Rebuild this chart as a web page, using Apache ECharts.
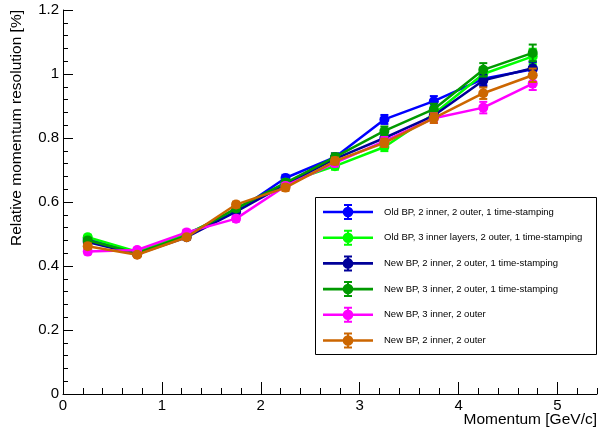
<!DOCTYPE html>
<html>
<head>
<meta charset="utf-8">
<script src="https://cdn.jsdelivr.net/npm/echarts@6/dist/echarts.min.js"></script>
<style>
  html, body { margin: 0; padding: 0; background: #fff; }
  #chart { width: 606px; height: 433px; }
</style>
</head>
<body>
<div id="chart"></div>
<script>
// Momentum bin centres [GeV/c]
const momentum = [0.25, 0.75, 1.25, 1.75, 2.25, 2.75, 3.25, 3.75, 4.25, 4.75];

// Relative momentum resolution [%] per layout
const oldBP2inner     = [0.485, 0.440, 0.500, 0.570, 0.675, 0.740, 0.858, 0.915, 0.985, 1.015];
const oldBP3inner     = [0.490, 0.445, 0.500, 0.575, 0.660, 0.712, 0.772, 0.875, 1.000, 1.055];
const newBP2innerTS   = [0.475, 0.437, 0.490, 0.570, 0.655, 0.735, 0.800, 0.870, 0.980, 1.018];
const newBP3innerTS   = [0.480, 0.440, 0.495, 0.580, 0.660, 0.740, 0.822, 0.890, 1.013, 1.066];
const newBP3inner     = [0.445, 0.450, 0.505, 0.548, 0.650, 0.722, 0.790, 0.862, 0.895, 0.970];
const newBP2inner     = [0.462, 0.435, 0.490, 0.592, 0.645, 0.728, 0.785, 0.862, 0.940, 0.996];

// Statistical uncertainties
const oldBP2innerErr   = [0.008, 0.007, 0.008, 0.009, 0.010, 0.012, 0.014, 0.016, 0.019, 0.022];
const oldBP3innerErr   = [0.008, 0.007, 0.008, 0.009, 0.010, 0.011, 0.013, 0.016, 0.020, 0.024];
const newBP2innerTSErr = [0.008, 0.007, 0.008, 0.009, 0.010, 0.011, 0.013, 0.015, 0.018, 0.021];
const newBP3innerTSErr = [0.008, 0.007, 0.008, 0.009, 0.010, 0.012, 0.014, 0.017, 0.021, 0.026];
const newBP3innerErr   = [0.008, 0.007, 0.008, 0.009, 0.010, 0.011, 0.013, 0.015, 0.018, 0.020];
const newBP2innerErr   = [0.008, 0.007, 0.008, 0.009, 0.010, 0.011, 0.013, 0.015, 0.018, 0.021];

// Axis tick values
const xMajorTicks = [0, 1, 2, 3, 4, 5];

const layouts = [
  { name: 'Old BP, 2 inner, 2 outer, 1 time-stamping',         color: '#0000ff', vals: oldBP2inner,   errs: oldBP2innerErr },
  { name: 'Old BP, 3 inner layers, 2 outer, 1 time-stamping',  color: '#00ff00', vals: oldBP3inner,   errs: oldBP3innerErr },
  { name: 'New BP, 2 inner, 2 outer, 1 time-stamping',         color: '#000099', vals: newBP2innerTS, errs: newBP2innerTSErr },
  { name: 'New BP, 3 inner, 2 outer, 1 time-stamping',         color: '#009900', vals: newBP3innerTS, errs: newBP3innerTSErr },
  { name: 'New BP, 3 inner, 2 outer',                          color: '#ff00ff', vals: newBP3inner,   errs: newBP3innerErr },
  { name: 'New BP, 2 inner, 2 outer',                          color: '#cc6600', vals: newBP2inner,   errs: newBP2innerErr }
];

const FONT = '"Liberation Sans", Arial, Helvetica, sans-serif';

// Legend glyph: horizontal line, error bar with caps, filled circle
const legendIcon = 'path://M0,6.7h50v2.6h-50z M24,0h2v16h-2z M21,0h8v2h-8z M21,14h8v2h-8z ' +
  'M30.3,8A5.3,5.3 0 1 1 19.7,8A5.3,5.3 0 1 1 30.3,8z';

const series = [];
layouts.forEach((l, i) => {
  series.push({
    type: 'line',
    name: l.name,
    xAxisIndex: 0,
    yAxisIndex: 0,
    z: 10 + 2 * i + 1,
    data: momentum.map((x, k) => [x, l.vals[k]]),
    symbol: 'circle',
    symbolSize: 10,
    showAllSymbol: true,
    lineStyle: { color: l.color, width: 2.5 },
    itemStyle: { color: l.color },
    emphasis: { disabled: true }
  });
});
layouts.forEach((l, i) => {
  series.push({
    type: 'custom',
    name: l.name,
    xAxisIndex: 0,
    yAxisIndex: 0,
    z: 10 + 2 * i,
    data: momentum.map((x, k) => [x, l.vals[k] - l.errs[k], l.vals[k] + l.errs[k]]),
    encode: { x: 0, y: [1, 2] },
    itemStyle: { color: l.color },
    renderItem(params, api) {
      const x = api.value(0);
      const lo = api.coord([x, api.value(1)]);
      const hi = api.coord([x, api.value(2)]);
      const hw = 4;
      const st = { stroke: l.color, lineWidth: 2 };
      return {
        type: 'group',
        children: [
          { type: 'line', shape: { x1: lo[0], y1: lo[1], x2: hi[0], y2: hi[1] }, style: st },
          { type: 'line', shape: { x1: lo[0] - hw, y1: lo[1], x2: lo[0] + hw, y2: lo[1] }, style: st },
          { type: 'line', shape: { x1: hi[0] - hw, y1: hi[1], x2: hi[0] + hw, y2: hi[1] }, style: st }
        ]
      };
    }
  });
});

const chart = echarts.init(document.getElementById('chart'), null, { renderer: 'canvas' });
chart.setOption({
  animation: false,
  backgroundColor: '#ffffff',
  grid: { left: 63, right: 9, top: 10, bottom: 39, containLabel: false },
  xAxis: [
    {
      type: 'value', min: 0, max: 5.4, interval: 1, position: 'bottom',
      axisLine: { lineStyle: { color: '#000', width: 1 } },
      axisTick: { inside: true, length: 12, customValues: xMajorTicks, lineStyle: { color: '#000' } },
      axisLabel: { customValues: xMajorTicks, margin: 4, color: '#000', fontSize: 15, fontFamily: FONT },
      splitLine: { show: false }
    },
    {
      type: 'value', min: 0, max: 5.4, interval: 0.2, position: 'bottom',
      axisLine: { show: false },
      axisTick: { inside: true, length: 6, lineStyle: { color: '#000' } },
      axisLabel: { show: false },
      splitLine: { show: false }
    }
  ],
  yAxis: {
    type: 'value', min: 0, max: 1.2, interval: 0.2,
    axisLine: { show: true, lineStyle: { color: '#000', width: 1 } },
    axisTick: { show: true, inside: true, length: 10, lineStyle: { color: '#000' } },
    minorTick: { show: true, splitNumber: 5, length: 5, lineStyle: { color: '#000' } },
    axisLabel: { margin: 4, color: '#000', fontSize: 15, fontFamily: FONT },
    splitLine: { show: false }
  },
  legend: {
    orient: 'vertical',
    left: 323, top: 204, padding: 0,
    itemWidth: 50, itemHeight: 16, itemGap: 9.7,
    icon: legendIcon,
    z: 20,
    selectedMode: false,
    data: layouts.map(l => l.name),
    textStyle: { color: '#000', fontSize: 9.5, fontFamily: FONT, padding: [0, 0, 0, 6] }
  },
  graphic: [
    {
      type: 'rect', z: 15,
      shape: { x: 315.5, y: 197.5, width: 281, height: 157 },
      style: { fill: '#fff', stroke: '#000', lineWidth: 1 }
    },
    {
      type: 'text', z: 20,
      x: 17, y: 10, rotation: Math.PI / 2,
      style: { text: 'Relative momentum resolution [%]', fill: '#000', font: '15.5px ' + FONT,
               textAlign: 'right', textVerticalAlign: 'middle' }
    },
    {
      type: 'text', z: 20,
      x: 597, y: 420,
      style: { text: 'Momentum [GeV/c]', fill: '#000', font: '15.5px ' + FONT,
               textAlign: 'right', textVerticalAlign: 'middle' }
    }
  ],
  series: series
});
</script>
</body>
</html>
